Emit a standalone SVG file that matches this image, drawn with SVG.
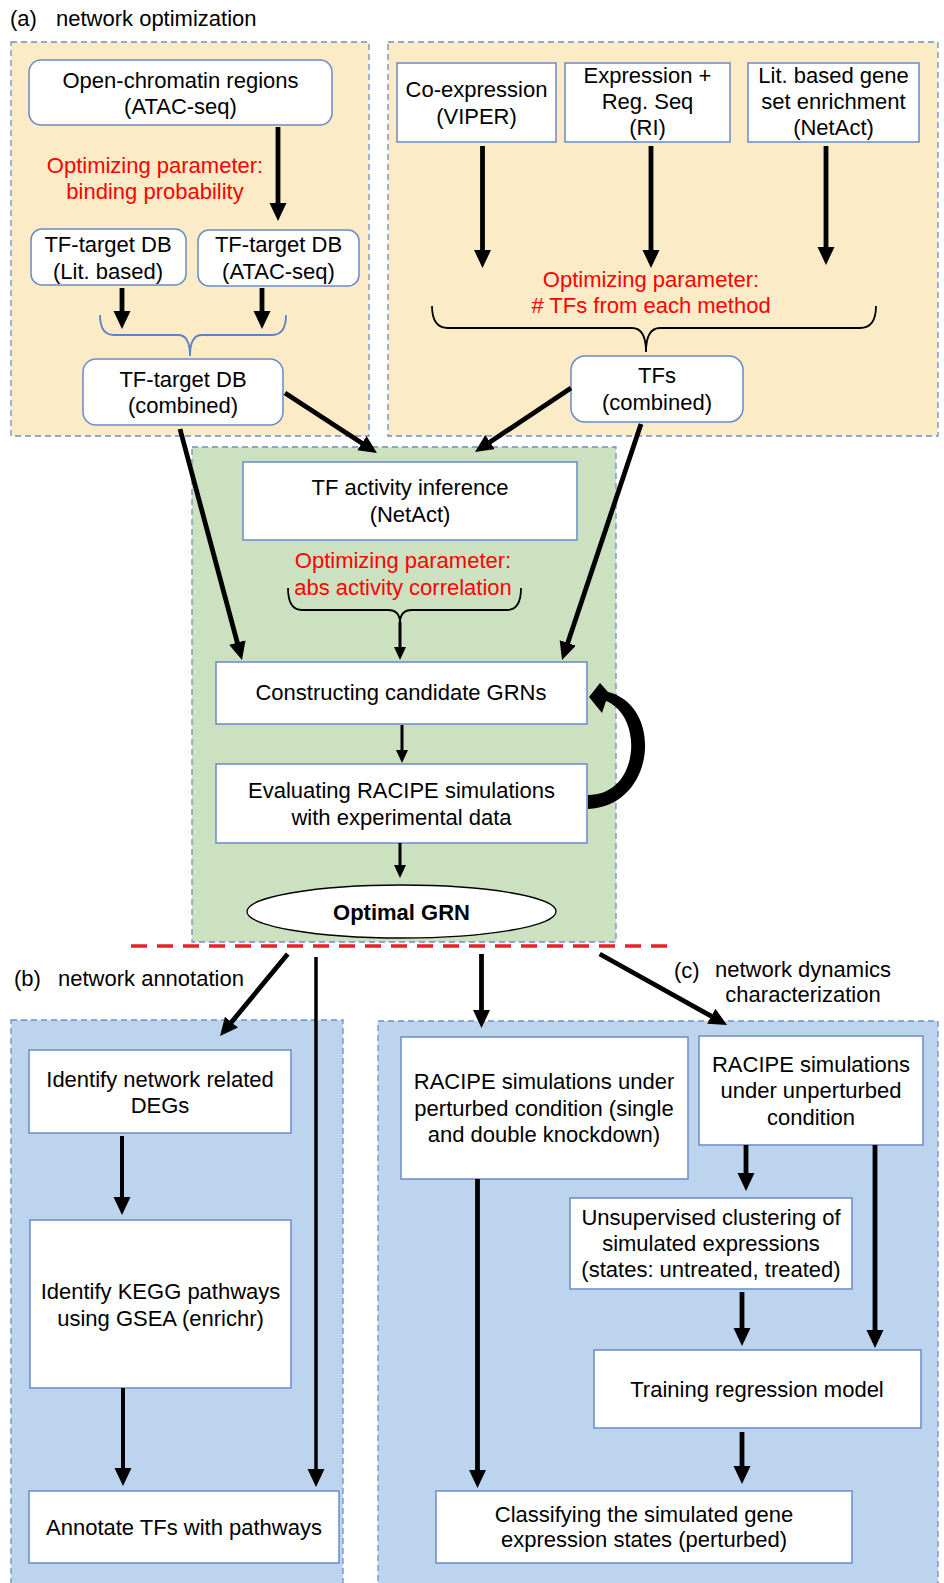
<svg xmlns="http://www.w3.org/2000/svg" width="944" height="1583" viewBox="0 0 944 1583">
<style>
.t{font-family:"Liberation Sans",Arial,Helvetica,sans-serif;font-size:22px;text-anchor:middle;fill:#000}
.r{fill:#FF0000}
.b{font-weight:bold}
.lbl{font-family:"Liberation Sans",Arial,Helvetica,sans-serif;font-size:22px;fill:#000}
.box{fill:#fff;stroke:#6A8AC6;stroke-width:1.5}
.panel{stroke:#6F8FC4;stroke-width:1.3;stroke-dasharray:6 4}
.a{stroke:#000;stroke-width:4.8;fill:none;marker-end:url(#ah)}
.as{stroke:#000;stroke-width:3;fill:none;marker-end:url(#ahs)}
.brace{fill:none;stroke-width:1.8}
</style>
<defs>
<marker id="ah" markerUnits="userSpaceOnUse" markerWidth="18" markerHeight="18" refX="8" refY="8.5" orient="auto"><path d="M0,0 L18,8.5 L0,17 z" fill="#000"/></marker>
<marker id="ahs" markerUnits="userSpaceOnUse" markerWidth="13" markerHeight="12" refX="5" refY="6" orient="auto"><path d="M0,0 L13,6 L0,12 z" fill="#000"/></marker>
</defs>
<rect width="944" height="1583" fill="#fff"/>

<!-- panels -->
<g id="panels">
<rect class="panel" x="11" y="42" width="358" height="394" fill="#FCEBC7"/>
<rect class="panel" x="388" y="42" width="550" height="394" fill="#FCEBC7"/>
<rect class="panel" x="192" y="447" width="424" height="495" fill="#CCE1C0"/>
<rect class="panel" x="11" y="1020" width="332" height="570" fill="#BCD4ED"/>
<rect class="panel" x="378" y="1021" width="560" height="570" fill="#BCD4ED"/>
</g>

<g id="labels">
<text class="lbl" x="10" y="26">(a)</text>
<text class="lbl" x="56" y="26">network optimization</text>
<text class="lbl" x="14" y="986">(b)</text>
<text class="lbl" x="58" y="986">network annotation</text>
<text class="lbl" x="674" y="978">(c)</text>
<text class="lbl" x="803" y="977" text-anchor="middle">network dynamics</text>
<text class="lbl" x="803" y="1002" text-anchor="middle">characterization</text>
<text class="t r" x="155" y="173">Optimizing parameter:</text>
<text class="t r" x="155" y="199">binding probability</text>
<text class="t r" x="651" y="287">Optimizing parameter:</text>
<text class="t r" x="651" y="313"># TFs from each method</text>
<text class="t r" x="403" y="568">Optimizing parameter:</text>
<text class="t r" x="403" y="595">abs activity correlation</text>
</g>

<!-- nodes -->
<g id="open_chromatin"><rect class="box" x="29" y="60" width="303" height="65" rx="12"/><text class="t" x="180.5" y="88">Open-chromatin regions</text><text class="t" x="180.5" y="114">(ATAC-seq)</text></g>
<g id="tf_db_lit"><rect class="box" x="31" y="229" width="155" height="56" rx="11"/><text class="t" x="108" y="252">TF-target DB</text><text class="t" x="108" y="279">(Lit. based)</text></g>
<g id="tf_db_atac"><rect class="box" x="198" y="230" width="161" height="56" rx="11"/><text class="t" x="278.5" y="252">TF-target DB</text><text class="t" x="278.5" y="279">(ATAC-seq)</text></g>
<g id="tf_db_comb"><rect class="box" x="83" y="359" width="200" height="66" rx="13"/><text class="t" x="183" y="387">TF-target DB</text><text class="t" x="183" y="413">(combined)</text></g>
<g id="coexp"><rect class="box" x="397" y="63" width="159" height="79"/><text class="t" x="476.5" y="97">Co-expression</text><text class="t" x="476.5" y="124">(VIPER)</text></g>
<g id="expr_reg"><rect class="box" x="565" y="63" width="165" height="79"/><text class="t" x="647.5" y="83">Expression +</text><text class="t" x="647.5" y="109">Reg. Seq</text><text class="t" x="647.5" y="135">(RI)</text></g>
<g id="lit_gse"><rect class="box" x="748" y="63" width="171" height="79"/><text class="t" x="833.5" y="83">Lit. based gene</text><text class="t" x="833.5" y="109">set enrichment</text><text class="t" x="833.5" y="135">(NetAct)</text></g>
<g id="tfs_comb"><rect class="box" x="571" y="356" width="172" height="66" rx="14"/><text class="t" x="657" y="383">TFs</text><text class="t" x="657" y="410">(combined)</text></g>
<g id="tf_activity"><rect class="box" x="243" y="462" width="334" height="78"/><text class="t" x="410" y="495">TF activity inference</text><text class="t" x="410" y="522">(NetAct)</text></g>
<g id="constructing"><rect class="box" x="216" y="662" width="371" height="62"/><text class="t" x="401" y="700">Constructing candidate GRNs</text></g>
<g id="evaluating"><rect class="box" x="216" y="764" width="371" height="79"/><text class="t" x="401.5" y="798">Evaluating RACIPE simulations</text><text class="t" x="401.5" y="825">with experimental data</text></g>
<g id="optimal"><ellipse cx="401.5" cy="911.5" rx="154.5" ry="26.5" fill="#fff" stroke="#000" stroke-width="1.3"/><text class="t b" x="401.5" y="920">Optimal GRN</text></g>
<g id="degs"><rect class="box" x="29" y="1050" width="262" height="83"/><text class="t" x="160" y="1087">Identify network related</text><text class="t" x="160" y="1113">DEGs</text></g>
<g id="kegg"><rect class="box" x="30" y="1220" width="261" height="168"/><text class="t" x="160.5" y="1299">Identify KEGG pathways</text><text class="t" x="160.5" y="1326">using GSEA (enrichr)</text></g>
<g id="annotate"><rect class="box" x="29" y="1491" width="310" height="72"/><text class="t" x="184" y="1535">Annotate TFs with pathways</text></g>
<g id="racipe_pert"><rect class="box" x="401" y="1037" width="287" height="142"/><text class="t" x="544" y="1089">RACIPE simulations under</text><text class="t" x="544" y="1115.5">perturbed condition (single</text><text class="t" x="544" y="1142">and double knockdown)</text></g>
<g id="racipe_unpert"><rect class="box" x="699" y="1036" width="224" height="109"/><text class="t" x="811" y="1072">RACIPE simulations</text><text class="t" x="811" y="1098">under unperturbed</text><text class="t" x="811" y="1125">condition</text></g>
<g id="clustering"><rect class="box" x="570" y="1198" width="282" height="91"/><text class="t" x="711" y="1225">Unsupervised clustering of</text><text class="t" x="711" y="1251">simulated expressions</text><text class="t" x="711" y="1277">(states: untreated, treated)</text></g>
<g id="training"><rect class="box" x="594" y="1350" width="327" height="78"/><text class="t" x="757" y="1397">Training regression model</text></g>
<g id="classifying"><rect class="box" x="436" y="1491" width="416" height="72"/><text class="t" x="644" y="1522">Classifying the simulated gene</text><text class="t" x="644" y="1547">expression states (perturbed)</text></g>

<!-- connectors -->
<g id="connectors">
<line class="a" x1="278" y1="127" x2="278" y2="211"/>
<line class="a" x1="122" y1="288" x2="122" y2="319"/>
<line class="a" x1="262" y1="288" x2="262" y2="319"/>
<path class="brace" stroke="#5F82C2" d="M100,315 Q100,335 114,335 L178,335 Q190,335 190,356 Q190,335 202,335 L272,335 Q286,335 286,315"/>
<line class="a" x1="482.5" y1="146" x2="482.5" y2="258"/>
<line class="a" x1="651" y1="146" x2="651" y2="258"/>
<line class="a" x1="826" y1="146" x2="826" y2="255"/>
<path class="brace" stroke="#000" d="M432,306 Q432,328 448,328 L632,328 Q646,328 646,352 Q646,328 660,328 L860,328 Q876,328 876,306"/>
<line class="a" x1="285" y1="393" x2="368.6" y2="447.5"/>
<line class="a" x1="180" y1="429" x2="239.4" y2="650.3"/>
<line class="a" x1="571" y1="388" x2="483.3" y2="446.5"/>
<line class="a" x1="641" y1="424" x2="565.2" y2="650.5"/>
<path class="brace" stroke="#000" d="M288,588 Q288,610 302,610 L388,610 Q400,610 400,623 Q400,610 412,610 L507,610 Q521,610 521,588"/>
<line class="as" x1="400" y1="622" x2="400" y2="652"/>
<line class="as" x1="402" y1="725" x2="402" y2="755"/>
<line class="as" x1="400" y1="843" x2="400" y2="870"/>
<path d="M588,809 C656,806 664,706 608,692 L600,683 L589,697 L602,713 L606,701 C644,716 640,795 588,795 Z" fill="#000"/>
<line x1="131" y1="946" x2="668" y2="946" stroke="#E8202A" stroke-width="3.5" stroke-dasharray="16 10"/>
<line class="a" x1="287.7" y1="954" x2="226.4" y2="1028.3"/>
<line class="a" x1="316" y1="957" x2="316" y2="1477" style="stroke-width:3.5"/>
<line class="a" x1="122" y1="1136" x2="122" y2="1205" style="stroke-width:4"/>
<line class="a" x1="123" y1="1388" x2="123" y2="1476" style="stroke-width:4"/>
<line class="a" x1="481.5" y1="954" x2="481.5" y2="1018"/>
<line class="a" x1="599.7" y1="954" x2="718.3" y2="1020.1"/>
<line class="a" x1="746" y1="1145" x2="746" y2="1181"/>
<line class="a" x1="875" y1="1145" x2="875" y2="1338"/>
<line class="a" x1="742" y1="1292" x2="742" y2="1336"/>
<line class="a" x1="742" y1="1432" x2="742" y2="1474"/>
<line class="a" x1="477.5" y1="1179" x2="477.5" y2="1478"/>
</g>
</svg>
